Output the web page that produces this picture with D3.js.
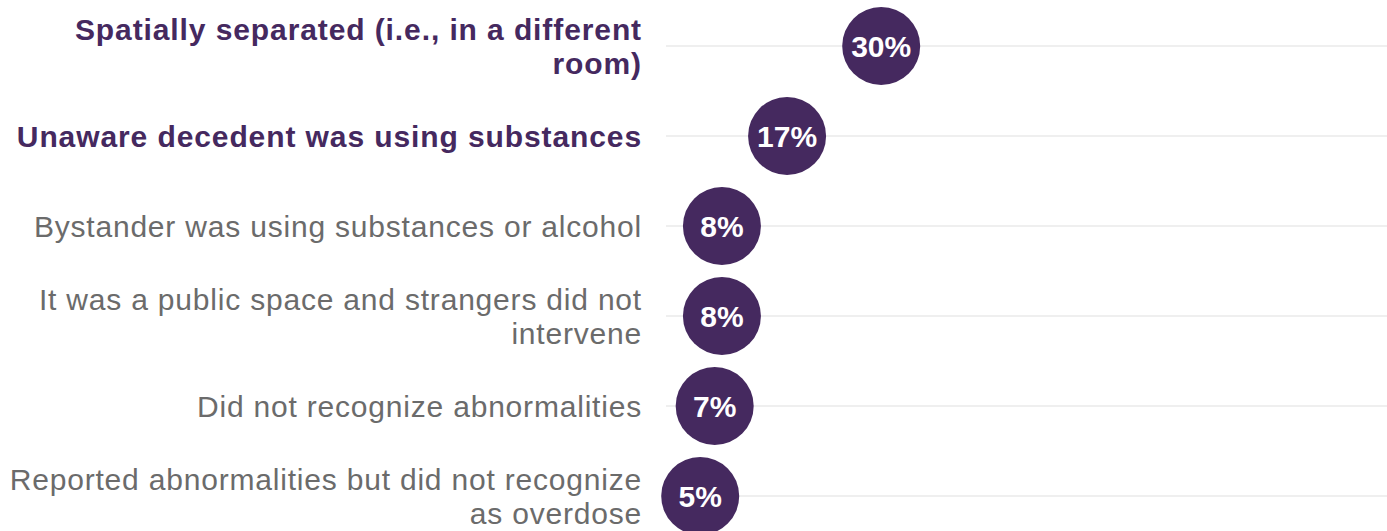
<!DOCTYPE html>
<html>
<head>
<meta charset="utf-8">
<script src="https://cdn.jsdelivr.net/npm/d3@7"></script>
<style>
  html, body { margin: 0; padding: 0; background: #ffffff; }
  svg { display: block; }
</style>
</head>
<body>
<svg id="chart" width="1387" height="531"></svg>
<script>
// ---- data ----
const categories = [
  "Spatially separated (i.e., in a different room)",
  "Unaware decedent was using substances",
  "Bystander was using substances or alcohol",
  "It was a public space and strangers did not intervene",
  "Did not recognize abnormalities",
  "Reported abnormalities but did not recognize as overdose"
];
const labelLines = [
  ["Spatially separated (i.e., in a different", "room)"],
  ["Unaware decedent was using substances"],
  ["Bystander was using substances or alcohol"],
  ["It was a public space and strangers did not", "intervene"],
  ["Did not recognize abnormalities"],
  ["Reported abnormalities but did not recognize", "as overdose"]
];
const highlighted = [true, true, false, false, false, false];
const values = [30, 17, 8, 8, 7, 5];
const valueLabels = ["30%", "17%", "8%", "8%", "7%", "5%"];

// ---- layout ----
const W = 1387, H = 531;
const svg = d3.select("#chart");
const purple = "#45295f";
const gray = "#6b6b6b";

const x = d3.scaleLinear().domain([0, 100]).range([664, 1388]);
const y = d3.scalePoint().domain(categories).range([46, 496]);

// gridlines
svg.append("g").selectAll("line")
  .data(categories)
  .join("line")
  .attr("x1", x(0) + 2)
  .attr("x2", W)
  .attr("y1", d => y(d))
  .attr("y2", d => y(d))
  .attr("stroke", "#efefef")
  .attr("stroke-width", 2);

// labels
const lineH = 34;
const lab = svg.append("g").selectAll("text")
  .data(categories)
  .join("text")
  .attr("text-anchor", "end")
  .attr("font-family", "'Liberation Sans', Arial, sans-serif")
  .attr("font-size", 30)
  .attr("font-weight", (d, i) => highlighted[i] ? "bold" : "normal")
  .attr("letter-spacing", (d, i) => highlighted[i] ? 0.9 : 0.8)
  .attr("fill", (d, i) => highlighted[i] ? purple : gray);

lab.each(function(d, i) {
  const lines = labelLines[i];
  const n = lines.length;
  const t = d3.select(this);
  lines.forEach((ln, j) => {
    t.append("tspan")
      .attr("x", 642)
      .attr("y", y(d) + (j - (n - 1) / 2) * lineH)
      .attr("dy", "0.36em")
      .text(ln);
  });
});

// bubbles
const g = svg.append("g").selectAll("g")
  .data(categories)
  .join("g")
  .attr("transform", (d, i) => `translate(${x(values[i])},${y(d)})`);

g.append("circle")
  .attr("r", 39)
  .attr("fill", purple);

g.append("text")
  .attr("text-anchor", "middle")
  .attr("dy", "0.36em")
  .attr("font-family", "'Liberation Sans', Arial, sans-serif")
  .attr("font-size", 30)
  .attr("font-weight", "bold")
  .attr("fill", "#ffffff")
  .text((d, i) => valueLabels[i]);
</script>
</body>
</html>
